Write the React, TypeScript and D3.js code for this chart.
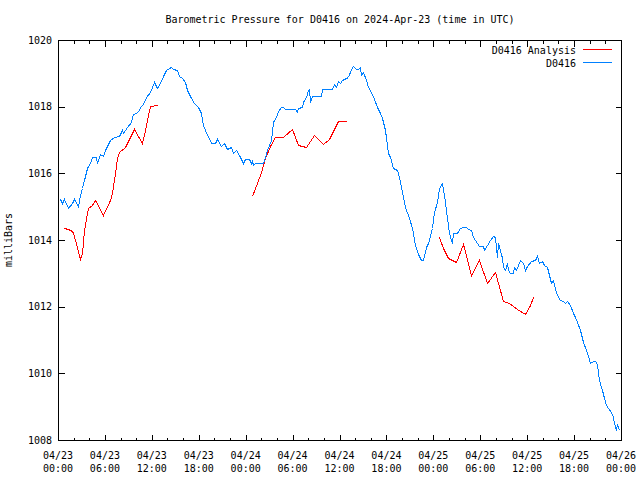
import * as d3 from 'd3';
import * as React from 'react';

const WIDTH = 640;
const HEIGHT = 480;
const MARGIN = { left: 58, right: 19, top: 40, bottom: 40 };

const TITLE = 'Barometric Pressure for D0416 on 2024-Apr-23 (time in UTC)';
const Y_LABEL = 'milliBars';
const START = Date.UTC(2024, 3, 23, 0, 0);
const END = Date.UTC(2024, 3, 26, 0, 0);
const Y_DOMAIN = [1008, 1020];
const Y_TICKS = [1008, 1010, 1012, 1014, 1016, 1018, 1020];

// observed pressure, hours after 04/23 00:00 UTC
const obsHours = [
  0.29, 0.55, 0.81, 1.32, 1.75, 2.08, 2.6, 2.85, 3.03, 3.36, 3.71, 4.05, 4.31, 4.82, 5.03, 5.37,
  5.79, 6.01, 6.65, 7.2, 7.84, 8.15, 8.35, 8.79, 9.34, 9.63, 10.19, 10.49, 10.91, 11.22, 11.77,
  12.28, 12.7, 13.04, 13.47, 13.81, 14.41, 14.67, 15.26, 15.51, 15.86, 16.2, 16.54, 16.97, 17.39,
  17.94, 18.25, 18.58, 19.02, 19.35, 19.53, 20.08, 20.37, 20.81, 21.23, 21.65, 22.09, 22.34,
  22.76, 23.11, 23.62, 23.91, 24.39, 24.64, 24.81, 24.98, 25.19, 26.25, 26.51, 26.77, 27.2, 27.53,
  27.88, 28.17, 28.48, 28.81, 29.03, 30.31, 30.53, 30.73, 31.17, 31.37, 31.72, 31.93, 32.06,
  32.23, 32.44, 33.6, 33.76, 35.0, 35.3, 35.55, 35.85, 36.06, 36.28, 36.83, 37.05, 37.47, 37.76,
  38.07, 38.4, 38.58, 38.75, 39.04, 39.35, 39.68, 40.03, 40.45, 40.76, 41.18, 41.47, 41.82, 42.24,
  42.46, 42.88, 43.31, 43.61, 43.95, 44.38, 44.89, 45.23, 45.65, 46.08, 46.42, 46.68, 47.02,
  47.35, 47.79, 48.12, 48.43, 48.76, 49.07, 49.36, 49.71, 50.04, 50.35, 50.55, 51.06, 51.41,
  51.75, 52.18, 52.47, 52.78, 53.11, 53.62, 53.88, 54.31, 54.48, 54.82, 55.24, 55.59, 55.88, 56.1,
  56.3, 56.52, 56.74, 56.94, 57.16, 57.38, 57.58, 57.8, 58.15, 58.35, 58.57, 58.86, 59.08, 59.43,
  59.72, 60.02, 60.45, 61.0, 61.3, 61.55, 61.86, 62.15, 62.57, 62.83, 63.08, 63.34, 63.59, 63.85,
  64.19, 64.62, 64.87, 65.13, 65.48, 65.82, 66.12, 66.41, 66.76, 67.1, 67.52, 67.82, 68.03, 68.38,
  68.67, 68.97, 69.22, 69.53, 69.82, 70.08, 70.37, 70.68, 70.94, 71.1, 71.32, 71.52, 71.74,
];
const obsPressure = [
  1015.23, 1015.12, 1015.22, 1014.95, 1015.1, 1015.22, 1015.02, 1015.35, 1015.55, 1015.8, 1016.15,
  1016.3, 1016.5, 1016.5, 1016.32, 1016.58, 1016.52, 1016.7, 1017.0, 1017.1, 1017.13, 1017.3,
  1017.22, 1017.4, 1017.55, 1017.78, 1017.85, 1018.0, 1018.08, 1018.28, 1018.43, 1018.73,
  1018.55, 1018.7, 1018.93, 1019.11, 1019.2, 1019.13, 1019.1, 1018.93, 1018.87, 1018.73, 1018.5,
  1018.27, 1018.1, 1018.0, 1017.8, 1017.45, 1017.15, 1017.07, 1016.9, 1016.9, 1017.03, 1016.83,
  1016.9, 1016.73, 1016.8, 1016.6, 1016.7, 1016.55, 1016.32, 1016.42, 1016.42, 1016.32, 1016.38,
  1016.25, 1016.3, 1016.3, 1016.5, 1016.7, 1017.0, 1017.55, 1017.7, 1017.87, 1018.0, 1018.0,
  1017.93, 1017.93, 1017.83, 1017.95, 1018.0, 1018.15, 1018.3, 1018.5, 1018.53, 1018.15, 1018.31,
  1018.31, 1018.53, 1018.53, 1018.67, 1018.6, 1018.77, 1018.7, 1018.8, 1018.87, 1018.9, 1019.13,
  1019.22, 1019.13, 1019.13, 1019.2, 1018.95, 1019.03, 1018.8, 1018.6, 1018.43, 1018.23, 1018.0,
  1017.8, 1017.65, 1017.3, 1016.6, 1016.5, 1016.17, 1016.1, 1015.9, 1015.45, 1015.0, 1014.65,
  1014.35, 1013.85, 1013.57, 1013.4, 1013.4, 1013.8, 1013.9, 1014.35, 1014.85, 1015.15, 1015.55,
  1015.7, 1015.35, 1014.65, 1014.2, 1013.92, 1014.2, 1014.2, 1014.35, 1014.4, 1014.4, 1014.32,
  1014.3, 1014.1, 1013.92, 1013.82, 1013.82, 1013.7, 1013.85, 1014.0, 1014.12, 1014.1, 1013.5,
  1013.92, 1013.7, 1013.45, 1013.2, 1013.1, 1013.3, 1013.1, 1013.02, 1013.02, 1013.2, 1013.1,
  1013.25, 1013.4, 1013.3, 1013.1, 1013.22, 1013.38, 1013.4, 1013.52, 1013.3, 1013.38, 1013.25,
  1013.2, 1012.95, 1012.7, 1012.8, 1012.52, 1012.35, 1012.2, 1012.18, 1012.1, 1012.18, 1012.05,
  1011.8, 1011.68, 1011.55, 1011.3, 1010.95, 1010.7, 1010.52, 1010.32, 1010.38, 1010.38, 1010.28,
  1009.8, 1009.5, 1009.25, 1009.05, 1008.95, 1008.85, 1008.7, 1008.52, 1008.3, 1008.48, 1008.3,
];

// analysis runs (null marks the gaps between runs)
const anaHours = [
  0.81, 1.24, 1.75, 1.96, 2.39, 2.81, 3.03, 3.36, 3.67, 3.87, 4.31, 4.73, 5.79, 6.65, 6.87, 7.29,
  7.51, 7.84, 8.57, 9.76, 10.78, 11.13, 11.47, 11.77, 12.83,
  18.0,
  24.85, 25.41, 25.92, 26.47, 27.11, 27.75, 28.81, 29.89, 30.73, 31.72, 32.74, 33.85, 34.7, 35.85,
  36.83,
  42.0,
  48.76, 49.27, 49.91, 50.9, 51.83, 52.78, 53.84, 54.82, 55.88, 56.87, 57.71, 58.66, 59.72, 60.36,
  60.78,
];
const anaPressure = [
  1014.35, 1014.32, 1014.28, 1014.2, 1013.8, 1013.42, 1013.6, 1014.3, 1014.8, 1014.95, 1015.05,
  1015.2, 1014.75, 1015.2, 1015.4, 1016.0, 1016.45, 1016.65, 1016.78, 1017.32, 1016.9, 1017.3,
  1017.75, 1018.02, 1018.05,
  null,
  1015.32, 1015.7, 1016.05, 1016.45, 1016.83, 1017.09, 1017.09, 1017.33, 1016.85, 1016.8, 1017.15,
  1016.87, 1017.03, 1017.57, 1017.57,
  null,
  1014.08, 1013.75, 1013.45, 1013.35, 1013.88, 1012.95, 1013.4, 1012.7, 1013.04, 1012.18, 1012.1,
  1011.92, 1011.77, 1012.05, 1012.28,
];

const SERIES = [
  { name: 'D0416 Analysis', color: '#ff0000', hours: anaHours, values: anaPressure },
  { name: 'D0416', color: '#0080ff', hours: obsHours, values: obsPressure },
];

const FONT = '"DejaVu Sans Mono", monospace';

export default function App() {
  const x = d3
    .scaleUtc()
    .domain([new Date(START), new Date(END)])
    .range([MARGIN.left, WIDTH - MARGIN.right]);
  const y = d3
    .scaleLinear()
    .domain(Y_DOMAIN)
    .range([HEIGHT - MARGIN.bottom, MARGIN.top]);

  const toDate = (h: number) => new Date(START + h * 3600 * 1000);
  const line = d3
    .line<[number, number | null]>()
    .defined(d => d[1] !== null)
    .x(d => Math.round(x(toDate(d[0]))) + 0.5)
    .y(d => Math.round(y(d[1] as number)) + 0.5);

  const majorX = x.ticks(d3.utcHour.every(6) as d3.TimeInterval);
  const minorX = x.ticks(d3.utcHour.every(2) as d3.TimeInterval);
  const fmtDay = d3.utcFormat('%m/%d');
  const fmtTime = d3.utcFormat('%H:%M');

  const left = MARGIN.left + 0.5;
  const right = WIDTH - MARGIN.right + 0.5;
  const top = MARGIN.top + 0.5;
  const bottom = HEIGHT - MARGIN.bottom + 0.5;

  return (
    <svg
      width={WIDTH}
      height={HEIGHT}
      style={{ position: 'absolute', left: 0, top: 0, background: '#fff' }}
      fontFamily={FONT}
      fontSize={10}
    >
      <rect width={WIDTH} height={HEIGHT} fill="#fff" />
      <text x={340} y={23} textAnchor="middle">{TITLE}</text>
      <text transform={`translate(12,${(MARGIN.top + HEIGHT - MARGIN.bottom) / 2}) rotate(-90)`} textAnchor="middle">
        {Y_LABEL}
      </text>

      <g stroke="#000" shapeRendering="crispEdges">
        {minorX.map(t => {
          const px = Math.round(x(t)) + 0.5;
          const len = majorX.some(m => +m === +t) ? 6 : 3;
          return (
            <g key={+t}>
              <line x1={px} x2={px} y1={bottom} y2={bottom - len} />
              <line x1={px} x2={px} y1={top} y2={top + len} />
            </g>
          );
        })}
        {Y_TICKS.map(v => {
          const py = Math.round(y(v)) + 0.5;
          return (
            <g key={v}>
              <line x1={left} x2={left + 6} y1={py} y2={py} />
              <line x1={right} x2={right - 6} y1={py} y2={py} />
            </g>
          );
        })}
      </g>

      {Y_TICKS.map(v => (
        <text key={v} x={MARGIN.left - 6} y={y(v)} dy="0.35em" textAnchor="end">
          {v}
        </text>
      ))}
      {majorX.map(t => (
        <g key={+t}>
          <text x={x(t)} y={459} textAnchor="middle">{fmtDay(t)}</text>
          <text x={x(t)} y={472} textAnchor="middle">{fmtTime(t)}</text>
        </g>
      ))}

      {SERIES.map(s => (
        <path
          key={s.name}
          d={line(s.hours.map((h, i) => [h, s.values[i]] as [number, number | null])) || ''}
          fill="none"
          stroke={s.color}
          strokeWidth={1}
          shapeRendering="crispEdges"
        />
      ))}

      {SERIES.map((s, i) => (
        <g key={s.name}>
          <text x={576} y={50 + i * 13} dy="0.35em" textAnchor="end">{s.name}</text>
          <line
            x1={583}
            x2={612}
            y1={49.5 + i * 13}
            y2={49.5 + i * 13}
            stroke={s.color}
            shapeRendering="crispEdges"
          />
        </g>
      ))}

      <rect
        x={left}
        y={top}
        width={right - left}
        height={bottom - top}
        fill="none"
        stroke="#000"
        shapeRendering="crispEdges"
      />
    </svg>
  );
}
